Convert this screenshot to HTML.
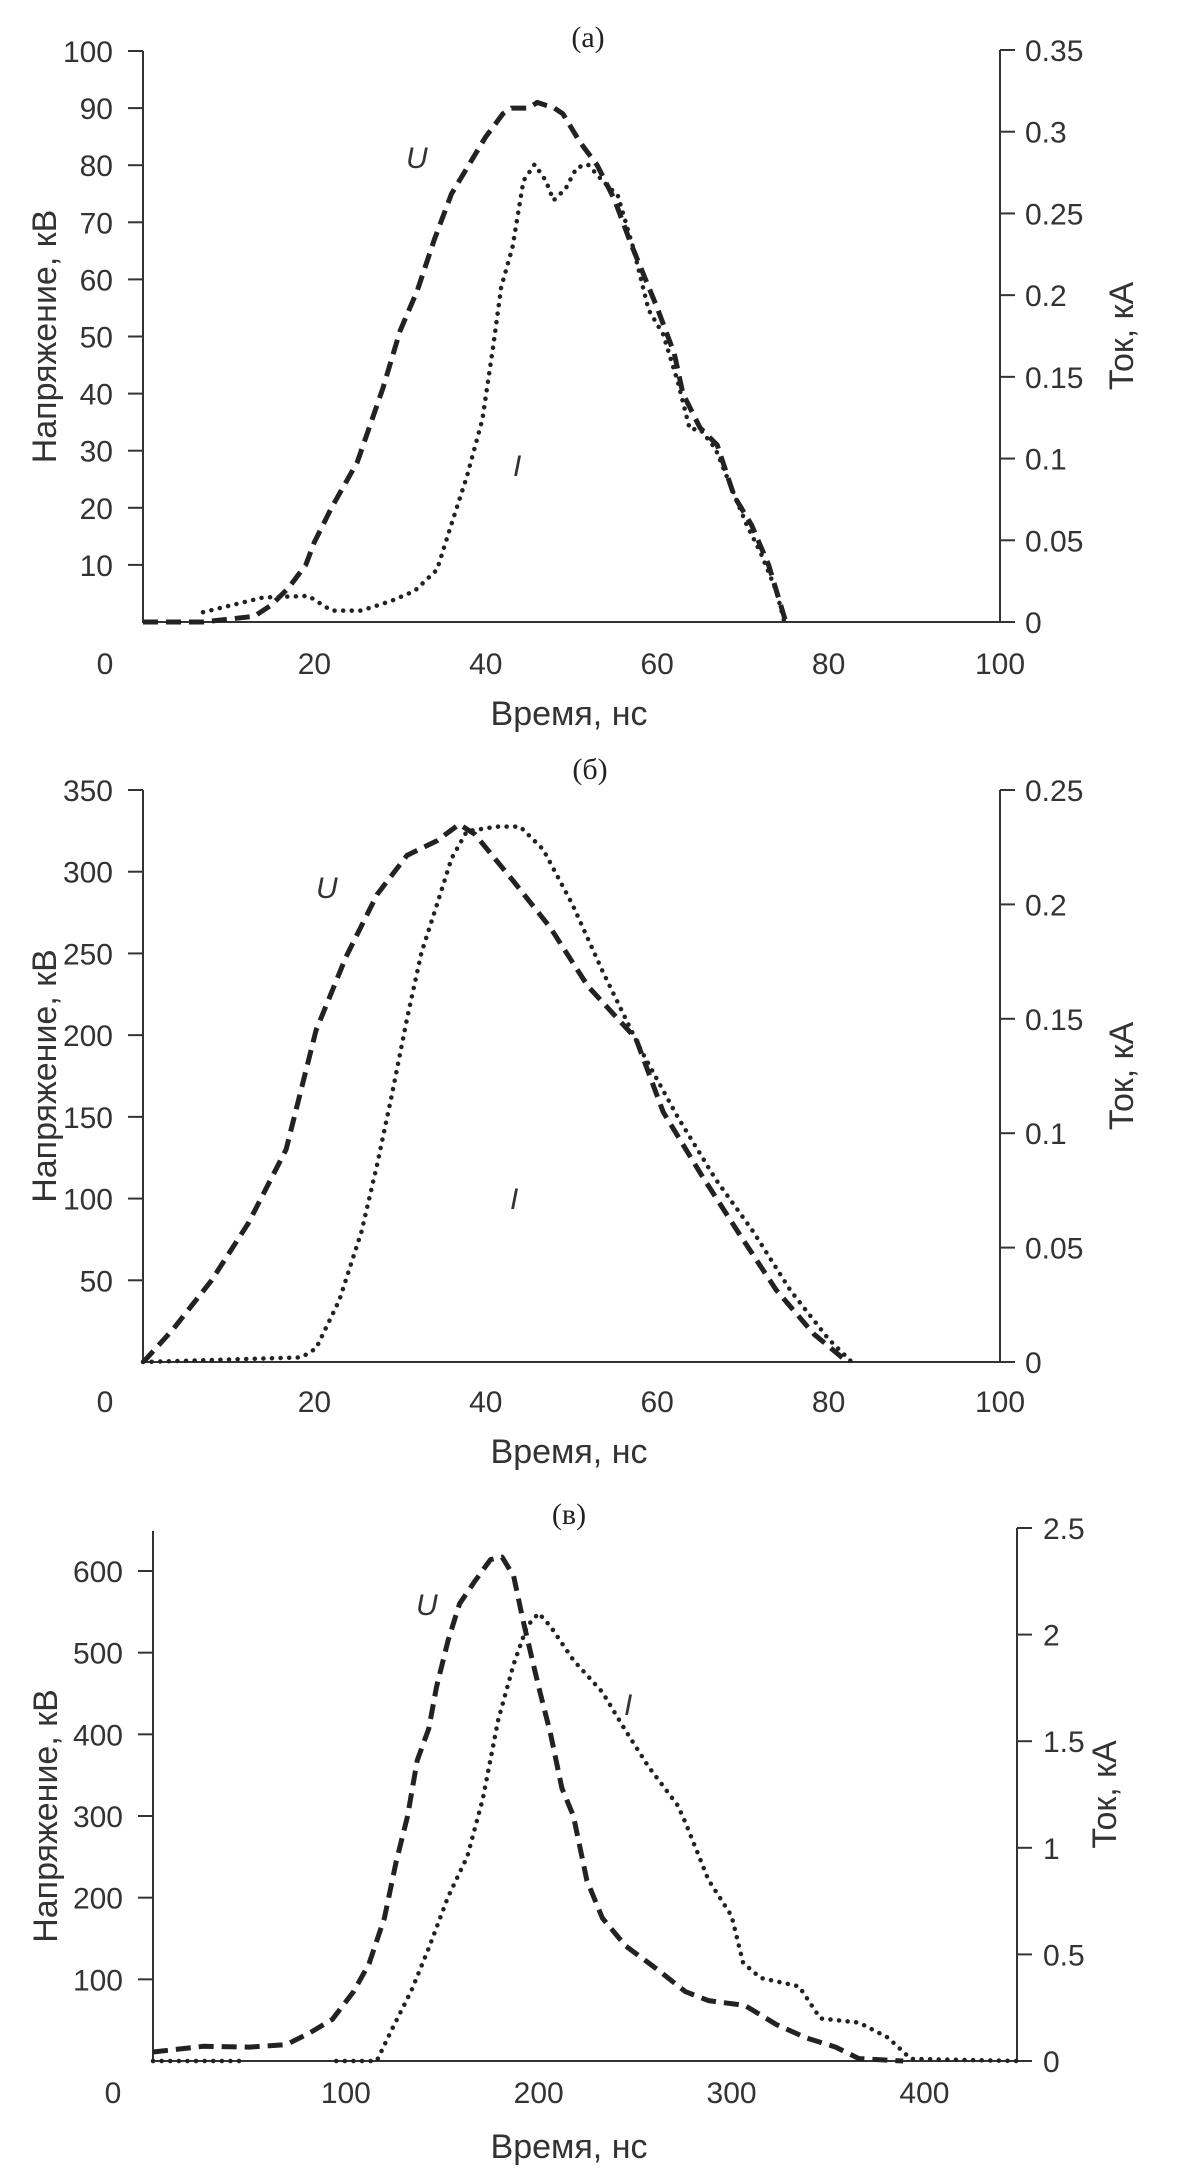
<!DOCTYPE html>
<html><head><meta charset="utf-8"><style>
html,body{margin:0;padding:0;background:#fff;}
svg{display:block;font-family:"Liberation Sans",sans-serif;}
.tk{font-size:30px;fill:#333;}
.at{font-size:34px;fill:#333;}
.ttl{font-family:"Liberation Serif",serif;font-size:30px;fill:#222;}
</style></head><body>
<svg id="fig" width="1179" height="2175" viewBox="0 0 1179 2175" xmlns="http://www.w3.org/2000/svg"></svg>
<script>
// ---- Panel (a) data ----
const aUt = [0,7,10,13,15,17,19,20,22,25,28,30,32,34,36,38,40,42,43,45,46,48,49,51,53,55,57,60,62,63,65,67,69,71,73,74,75];
const aUv = [0,0,0.5,1,3,6,10,14,20,28,41,51,58,67,75,80,85,89,90,90,91,90,89,84,80,74,66,55,47,40,34,31,22,17,10,5,0];
const aIt = [7,14,19.3,22,25.5,29,31.7,34.3,36,37.8,39.6,40.9,41.8,43.1,44.4,45.7,47,47.9,49.3,50.6,51.9,53.6,55.4,57.2,59,60.7,62.4,63.8,65,66.8,68.6,70.4,72.1,73.9,74.8];
const aIv = [0.006,0.015,0.016,0.007,0.007,0.013,0.019,0.032,0.06,0.089,0.124,0.17,0.205,0.229,0.27,0.28,0.27,0.258,0.265,0.278,0.28,0.27,0.261,0.229,0.191,0.176,0.147,0.118,0.118,0.106,0.083,0.06,0.042,0.019,0.001];
const aLeftTicks = [10,20,30,40,50,60,70,80,90,100];
const aRightTicks = [0,0.05,0.1,0.15,0.2,0.25,0.3,0.35];
const aRightLabels = ["0","0.05","0.1","0.15","0.2","0.25","0.3","0.35"];
const aXTicks = [20,40,60,80,100];
// ---- Panel (b) data ----
const bUt = [0,0.4,3.5,8,12.3,16.7,20.2,23.7,27.3,30.8,34.3,36.9,38.7,43.1,47.5,51.9,57.5,60.7,65.1,69.5,73.9,78.3,82.2];
const bUv = [0,2,20,50,85,130,203,248,286,310,319,329,323,295,266,230,198,153,115,79,44,17,0];
const bIt = [0,18.5,20.2,22.9,25.5,27.3,29,30.8,32.5,34.3,36,37.8,41.3,44,46.7,50.1,53.6,58,62.4,66.8,71.2,75.6,80,82.7];
const bIv = [0,0.002,0.006,0.027,0.057,0.086,0.116,0.15,0.179,0.2,0.22,0.232,0.234,0.234,0.224,0.2,0.171,0.137,0.107,0.08,0.057,0.031,0.01,0];
const bLeftTicks = [50,100,150,200,250,300,350];
const bRightTicks = [0,0.05,0.1,0.15,0.2,0.25];
const bRightLabels = ["0","0.05","0.1","0.15","0.2","0.25"];
const bXTicks = [20,40,60,80,100];
// ---- Panel (c) data ----
const cUt = [0,26,50,69,81,93,104,112,120,126,132,137,143,147,153,159,167,175,181,187,192,196,200,206,212,218,225,233,245,261,276,288,307,323,339,354,366,389];
const cUv = [11,18,17,20,34,51,85,119,175,243,300,368,407,458,515,560,588,614,617,594,538,498,458,402,334,300,221,175,141,113,85,74,68,45,28,17,3,0];
const cIt0 = [0,45];
const cIv0 = [0,0];
const cIt = [95,116,124,134,143,153,163,171,179,187,194,200,206,218,233,245,257,272,276,288,300,306,315,335,346,366,381,393,448];
const cIv = [0,0,0.15,0.33,0.53,0.77,0.96,1.23,1.6,1.86,2.04,2.1,2.04,1.88,1.73,1.55,1.38,1.2,1.12,0.85,0.68,0.46,0.39,0.35,0.2,0.18,0.11,0.01,0];
const cLeftTicks = [100,200,300,400,500,600];
const cRightTicks = [0,0.5,1,1.5,2,2.5];
const cRightLabels = ["0","0.5","1","1.5","2","2.5"];
const cXTicks = [100,200,300,400];

const NS = "http://www.w3.org/2000/svg";
const svg = document.getElementById('fig');
function mk(tag, attrs, parent){ const e=document.createElementNS(NS,tag); for(const k in attrs) e.setAttribute(k,attrs[k]); (parent||svg).appendChild(e); return e; }
function txt(s, attrs, parent){ const e=mk('text',attrs,parent); e.textContent=s; return e; }

function panel(p){
  const g = mk('g',{});
  
  
  const sx = t => p.x0 + (t/p.xmax)*(p.x1-p.x0);
  const syL = v => p.y0 - (v/p.lmax)*(p.y0-p.lTopY);
  const syR = v => p.y0 - (v/p.rmax)*(p.y0-p.rTopY);
  const t = txt(p.title,{x:p.titleX,y:p.titleY,'text-anchor':'middle',class:'ttl'},g);
  
  
  const ax = mk('path',{d:`M${p.x0},${p.leftAxisTop} V${p.y0} H${p.x1} V${p.rTopY}`,stroke:'#333','stroke-width':2,fill:'none'},g);
  
  
  p.lt.forEach(v=>{
    const y=syL(v);
    mk('line',{x1:p.x0-15,x2:p.x0,y1:y,y2:y,stroke:'#333','stroke-width':2},g);
    const l=txt(String(v),{x:p.lLabelX,y:y+11,'text-anchor':'end',class:'tk'},g);
    
    
  });
  p.rt.forEach((v,i)=>{
    const y=syR(v);
    mk('line',{x1:p.x1,x2:p.x1+15,y1:y,y2:y,stroke:'#333','stroke-width':2},g);
    const l=txt(p.rl[i],{x:p.rLabelX,y:y+11,'text-anchor':'start',class:'tk'},g);
    
    
  });
  const z=txt('0',{x:p.zeroX,y:p.xLabelY,'text-anchor':'middle',class:'tk'},g);
  
  
  p.xt.forEach(v=>{
    const l=txt(String(v),{x:sx(v),y:p.xLabelY,'text-anchor':'middle',class:'tk'},g);
    
    
  });
  const xt=txt('Время, нс',{x:p.xTitleX,y:p.xTitleY,'text-anchor':'middle',class:'at'},g);
  
  
  const yl=txt('Напряжение, кВ',{x:0,y:0,'text-anchor':'middle',class:'at',transform:`translate(${p.lTitleX},${p.y0-(p.y0-p.lTopY)/2}) rotate(-90)`},g);
  
  
  const yr=txt('Ток, кА',{x:0,y:0,'text-anchor':'middle',class:'at',transform:`translate(${p.rTitleX},${p.y0-(p.y0-p.rTopY)/2}) rotate(-90)`},g);
  
  
  const path=(ts,vs,sy)=>ts.map((tt,i)=>(i?'L':'M')+sx(tt).toFixed(1)+','+sy(vs[i]).toFixed(1)).join(' ');
  p.iSeries.forEach(s=>{
    const il=mk('path',{d:path(s[0],s[1],syR),stroke:'#222','stroke-width':4.5,fill:'none','stroke-dasharray':'0.1 8.5','stroke-linecap':'round','stroke-linejoin':'round'},g);
    
    
  });
  const ul=mk('path',{d:path(p.ut,p.uv,syL),stroke:'#222','stroke-width':5,fill:'none','stroke-dasharray':'15 8','stroke-linejoin':'round'},g);
  
  
  const ulab=txt('U',{x:p.uLab[0],y:p.uLab[1],'font-style':'italic',class:'tk'},g);
  
  
  const ilab=txt('I',{x:p.iLab[0],y:p.iLab[1],'font-style':'italic',class:'tk'},g);
  
  
}

panel({id:'panel-a',title:'(a)',titleX:588,titleY:47,x0:143,x1:1000,xmax:100,y0:622,lTopY:51,lmax:100,rTopY:50,rmax:0.35,leftAxisTop:51,
  lt:aLeftTicks,rt:aRightTicks,rl:aRightLabels,xt:aXTicks,lLabelX:113,rLabelX:1025,zeroX:105,xLabelY:674,xTitleX:569,xTitleY:725,
  lTitleX:56,rTitleX:1133,ut:aUt,uv:aUv,iSeries:[[aIt,aIv]],uLab:[406,168],iLab:[513,476]});
panel({id:'panel-b',title:'(б)',titleX:590,titleY:779,x0:143,x1:1000,xmax:100,y0:1362,lTopY:790,lmax:350,rTopY:790,rmax:0.25,leftAxisTop:790,
  lt:bLeftTicks,rt:bRightTicks,rl:bRightLabels,xt:bXTicks,lLabelX:113,rLabelX:1025,zeroX:105,xLabelY:1412,xTitleX:569,xTitleY:1463,
  lTitleX:56,rTitleX:1133,ut:bUt,uv:bUv,iSeries:[[bIt,bIv]],uLab:[316,898],iLab:[510,1209]});
panel({id:'panel-c',title:'(в)',titleX:569,titleY:1524,x0:153,x1:1017,xmax:448,y0:2061,lTopY:1571,lmax:600,rTopY:1528,rmax:2.5,leftAxisTop:1531,
  lt:cLeftTicks,rt:cRightTicks,rl:cRightLabels,xt:cXTicks,lLabelX:123,rLabelX:1043,zeroX:113,xLabelY:2103,xTitleX:569,xTitleY:2158,
  lTitleX:57,rTitleX:1116,ut:cUt,uv:cUv,iSeries:[[cIt0,cIv0],[cIt,cIv]],uLab:[416,1615],iLab:[624,1715]});
</script>
</body></html>
